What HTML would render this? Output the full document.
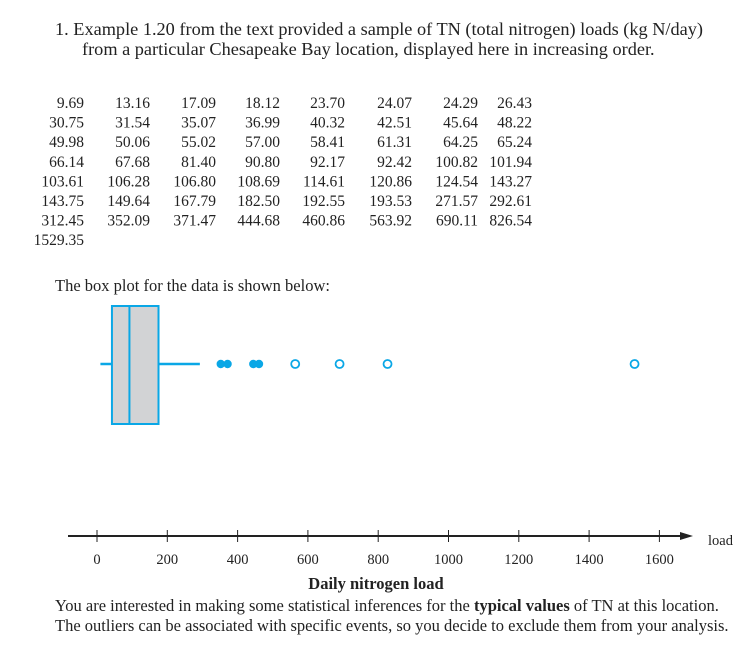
<!DOCTYPE html>
<html><head><meta charset="utf-8"><style>
body{margin:0;background:#fff;}
svg{display:block;font-family:"Liberation Serif",serif;}
</style></head><body>
<svg width="754" height="645">
<g font-size="18.3" fill="#222">
<text x="55" y="35">1.  Example 1.20 from the text provided a sample of TN (total nitrogen) loads (kg N/day)</text>
<text x="82" y="55">from a particular Chesapeake Bay location, displayed here in increasing order.</text>
</g>
<g id="table" font-size="15.5" fill="#222" text-anchor="end"></g>
<text x="55" y="291" font-size="16.5" fill="#222">The box plot for the data is shown below:</text>
<g id="plot"></g>
<g id="axis"></g>
<text x="376" y="589" font-size="16.5" font-weight="bold" text-anchor="middle" fill="#222">Daily nitrogen load</text>
<text x="55" y="611" font-size="16.5" fill="#222">You are interested in making some statistical inferences for the <tspan font-weight="bold">typical values</tspan> of TN at this location.</text>
<text x="55" y="631" font-size="16.5" fill="#222">The outliers can be associated with specific events, so you decide to exclude them from your analysis.</text>
</svg>
<script>
const tableValues=["9.69","13.16","17.09","18.12","23.70","24.07","24.29","26.43","30.75","31.54","35.07","36.99","40.32","42.51","45.64","48.22","49.98","50.06","55.02","57.00","58.41","61.31","64.25","65.24","66.14","67.68","81.40","90.80","92.17","92.42","100.82","101.94","103.61","106.28","106.80","108.69","114.61","120.86","124.54","143.27","143.75","149.64","167.79","182.50","192.55","193.53","271.57","292.61","312.45","352.09","371.47","444.68","460.86","563.92","690.11","826.54","1529.35"];
const boxStats=[9.69,42.5,92.3,175,292.61]; // whisker-low, Q1, median, Q3, whisker-high
const mildOutliers=[352.09,371.47,444.68,460.86];
const extremeOutliers=[563.92,690.11,826.54,1529.35];
const ticks=[0,200,400,600,800,1000,1200,1400,1600];
const NS="http://www.w3.org/2000/svg";
function mk(p,t,a){const e=document.createElementNS(NS,t);for(const k in a)e.setAttribute(k,a[k]);p.appendChild(e);return e;}
const colX=[84,150,216,280,345,412,478,532];
const tb=document.getElementById('table');
tableValues.forEach((v,i)=>{const r=Math.floor(i/8),c=i%8;
 const t=mk(tb,'text',{x:colX[c],y:108+r*19.6});t.textContent=v;
 
 });
const xs=v=>97+v*0.3515;
const pl=document.getElementById('plot');const blue='#0aa7e6';const yc=364;
let e=mk(pl,'line',{x1:xs(boxStats[0]),x2:xs(boxStats[1]),y1:yc,y2:yc,stroke:blue,'stroke-width':2.5});


e=mk(pl,'line',{x1:xs(boxStats[3]),x2:xs(boxStats[4]),y1:yc,y2:yc,stroke:blue,'stroke-width':2.5});


e=mk(pl,'rect',{x:xs(boxStats[1]),y:306,width:xs(boxStats[3])-xs(boxStats[1]),height:118,fill:'#d2d3d5',stroke:blue,'stroke-width':2});


e=mk(pl,'line',{x1:xs(boxStats[2]),x2:xs(boxStats[2]),y1:306,y2:424,stroke:blue,'stroke-width':2});


mildOutliers.forEach(v=>{const c=mk(pl,'circle',{cx:xs(v),cy:yc,r:4.2,fill:blue});
 
 });
extremeOutliers.forEach(v=>{const c=mk(pl,'circle',{cx:xs(v),cy:yc,r:4,fill:'#fff',stroke:blue,'stroke-width':1.8});
 
 });
const ax=document.getElementById('axis');const ay=536;
e=mk(ax,'line',{x1:68,x2:684,y1:ay,y2:ay,stroke:'#222','stroke-width':2});


e=mk(ax,'polygon',{points:`680,${ay-4} 693,${ay} 680,${ay+4}`,fill:'#222'});


ticks.forEach(v=>{const x=xs(v);
 const l=mk(ax,'line',{x1:x,x2:x,y1:ay-6,y2:ay+6,stroke:'#222','stroke-width':1});
 
 
 const t=mk(ax,'text',{x:x,y:ay+28,'text-anchor':'middle','font-size':14.5,fill:'#222'});t.textContent=v;
 
 });
e=mk(ax,'text',{x:708,y:ay+9,'font-size':14.5,fill:'#222'});e.textContent='load';


</script>
</body></html>
